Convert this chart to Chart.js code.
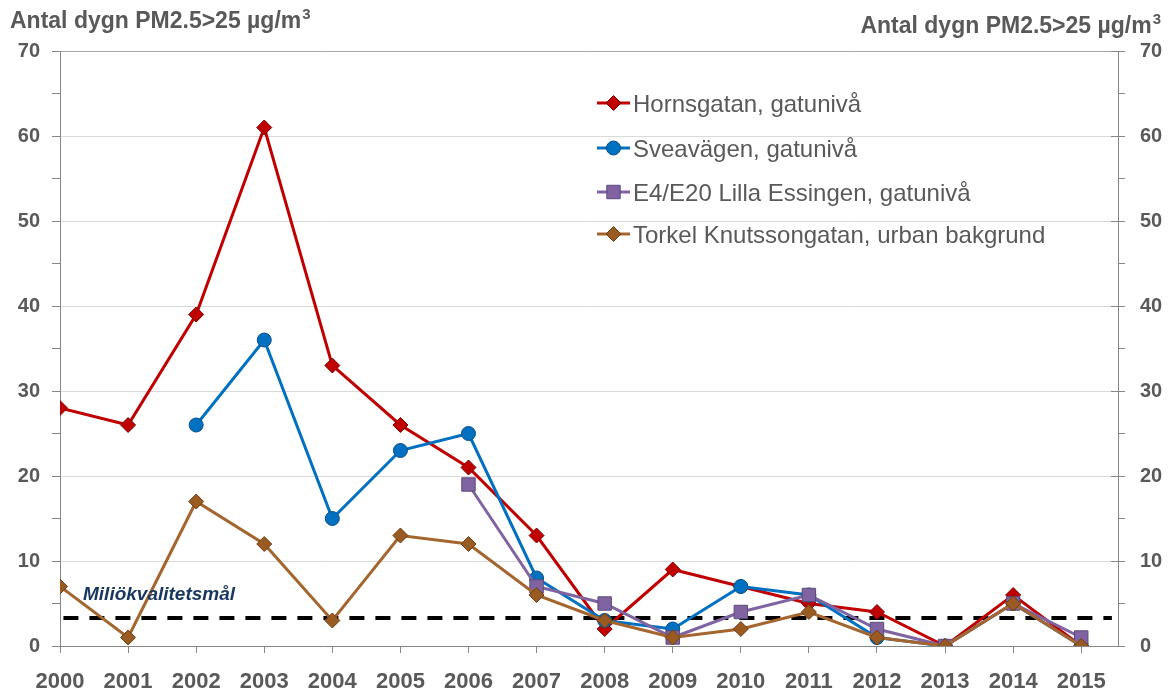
<!DOCTYPE html>
<html><head><meta charset="utf-8">
<script src="https://cdn.jsdelivr.net/npm/chart.js@4"></script>
<style>html,body{margin:0;padding:0;background:#fff}#wrap{width:1171px;height:695px;position:relative}</style>
</head><body><div id="wrap"><canvas id="c" width="1171" height="695"></canvas></div>
<script>
// ---- data ----
const years = [2000,2001,2002,2003,2004,2005,2006,2007,2008,2009,2010,2011,2012,2013,2014,2015];
const hornsgatan = [28,26,39,61,33,26,21,13,2,9,7,5,4,0,6,0];
const sveavagen  = [null,null,26,36,15,23,25,8,3,2,7,6,1,0,5,0];
const e4e20      = [null,null,null,null,null,null,19,7,5,1,4,6,2,0,5,1];
const torkel     = [7,1,17,12,3,13,12,6,3,1,2,4,1,0,5,0];
const goalYears  = [2000.05, 2015.45];
const goalValues = [3.3, 3.3];
const seriesNames = ['Hornsgatan, gatunivå','Sveavägen, gatunivå','E4/E20 Lilla Essingen, gatunivå','Torkel Knutssongatan, urban bakgrund'];
const goalName = 'Miliökvalitetsmål';
const axisTitleMain = 'Antal dygn PM2.5>25 µg/m';
const axisTitleSup = '3';
const yMin = 0, yMax = 70, yStep = 5, yLabelStep = 10;

const FONT = '"Liberation Sans", Arial, sans-serif';
const TXT = '#595959';
const AX = '#868686';

const toXY = arr => arr.map((v,i)=>({x:years[i], y:v}));

const styles = [
  {line:'#C00000', fill:'#C00000', edge:'#7A0000', shape:'diamond', r:7.5, ps:'rectRot'},
  {line:'#0070C0', fill:'#0070C0', edge:'#0A4F8A', shape:'circle', r:7, ps:'circle'},
  {line:'#8064A2', fill:'#8064A2', edge:'#5E4A7A', shape:'square', r:9.5, ps:'rect'},
  {line:'#A5652E', fill:'#9A5B22', edge:'#6E3F12', shape:'diamond', r:7.5, ps:'rectRot'}
];
const seriesData = [hornsgatan, sveavagen, e4e20, torkel];

const datasets = seriesData.map((d,i)=>({
  label: seriesNames[i],
  data: toXY(d),
  borderColor: styles[i].line,
  backgroundColor: styles[i].fill,
  borderWidth: 3,
  pointStyle: styles[i].ps,
  pointRadius: styles[i].r,
  pointHoverRadius: styles[i].r,
  pointBackgroundColor: styles[i].fill,
  pointBorderColor: styles[i].edge,
  pointBorderWidth: 1,
  tension: 0,
  order: 4 - i,
  yAxisID: 'y'
}));
datasets.push({
  label: goalName,
  data: goalYears.map((x,i)=>({x, y: goalValues[i]})),
  borderColor: '#000',
  borderWidth: 4,
  borderDash: [15, 11],
  pointRadius: 0,
  order: 10,
  yAxisID: 'y'
});

function drawMarker(ctx, shape, x, y, r, fill, edge){
  ctx.save();
  ctx.fillStyle = fill; ctx.strokeStyle = edge; ctx.lineWidth = 1;
  ctx.beginPath();
  if (shape === 'diamond') {
    ctx.moveTo(x, y-r); ctx.lineTo(x+r, y); ctx.lineTo(x, y+r); ctx.lineTo(x-r, y); ctx.closePath();
  } else if (shape === 'circle') {
    ctx.arc(x, y, r, 0, Math.PI*2);
  } else {
    const s = r*Math.SQRT1_2; ctx.rect(x-s, y-s, 2*s, 2*s);
  }
  ctx.fill(); ctx.stroke();
  ctx.restore();
}

function drawTitle(ctx, x, y, alignRight){
  const mainFont = 'bold 23px ' + FONT, supFont = 'bold 15px ' + FONT;
  ctx.font = mainFont; const w1 = ctx.measureText(axisTitleMain).width;
  ctx.font = supFont; const w2 = ctx.measureText(axisTitleSup).width;
  const x0 = alignRight ? x - w1 - w2 - 1 : x;
  ctx.textAlign = 'left';
  ctx.font = mainFont; ctx.fillText(axisTitleMain, x0, y);
  ctx.font = supFont; ctx.fillText(axisTitleSup, x0 + w1 + 1, y - 9);
}

const extras = {
  id: 'extras',
  afterDraw(chart){
    const ctx = chart.ctx;
    const xs = chart.scales.x, ys = chart.scales.y, ys2 = chart.scales.y2;
    ctx.save();
    // axis titles
    ctx.fillStyle = TXT;
    ctx.textBaseline = 'alphabetic';
    drawTitle(ctx, 10, 28, false);
    drawTitle(ctx, 1161, 33, true);
    // inner major tick marks on right axis
    ctx.strokeStyle = AX; ctx.lineWidth = 1;
    for (let v = yMin + yLabelStep; v <= yMax; v += yLabelStep) {
      const py = Math.round(ys2.getPixelForValue(v)) + 0.5;
      ctx.beginPath(); ctx.moveTo(ys2.left - 7, py); ctx.lineTo(ys2.left, py); ctx.stroke();
    }
    // goal label
    ctx.fillStyle = '#17375E';
    ctx.font = 'italic bold 19px ' + FONT;
    ctx.textAlign = 'left';
    ctx.fillText(goalName, xs.getPixelForValue(years[0]) + 23, ys.getPixelForValue(goalValues[0]) - 18);
    // legend
    const rows = [103, 148, 192, 234];
    ctx.font = '24px ' + FONT;
    seriesNames.forEach((name, i) => {
      const y = rows[i];
      const st = styles[i];
      ctx.strokeStyle = st.line; ctx.lineWidth = 3;
      ctx.beginPath(); ctx.moveTo(597, y); ctx.lineTo(630, y); ctx.stroke();
      drawMarker(ctx, st.shape, 613.5, y, st.r, st.fill, st.edge);
      ctx.fillStyle = TXT;
      ctx.textAlign = 'left';
      ctx.fillText(name, 633, y + 8.5);
    });
    ctx.restore();
  }
};

const gridColor = c => {
  const v = c.tick ? c.tick.value : 0;
  if (v % yLabelStep !== 0 || v === yMin) return 'rgba(0,0,0,0)';
  return v === yMax ? '#a6a6a6' : '#d9d9d9';
};

new Chart(document.getElementById('c'), {
  type: 'line',
  data: { datasets },
  plugins: [extras],
  options: {
    responsive: false,
    animation: false,
    devicePixelRatio: 1,
    events: [],
    layout: { padding: { top: 51, left: 0, right: 0, bottom: 0 } },
    plugins: { legend: { display: false }, tooltip: { enabled: false }, title: { display: false } },
    scales: {
      x: {
        type: 'linear',
        min: years[0],
        max: 2015.54,
        afterBuildTicks: s => { s.ticks = years.map(v => ({ value: v })); },
        afterFit: s => { s.height = 49; },
        ticks: { callback: v => String(v), autoSkip: false, maxRotation: 0, padding: 16,
                 color: TXT, font: { family: FONT, size: 22, weight: 'bold' } },
        grid: { drawOnChartArea: false, tickLength: 7, tickColor: AX },
        border: { color: AX, width: 1 }
      },
      y: {
        position: 'left',
        min: yMin, max: yMax,
        afterFit: s => { s.width = 60; },
        ticks: { stepSize: yStep, autoSkip: false, padding: 12,
                 callback: v => (v % yLabelStep === 0 ? String(v) : ''),
                 color: TXT, font: { family: FONT, size: 20, weight: 'bold' } },
        grid: { color: gridColor, tickColor: AX, tickLength: 8, lineWidth: 1 },
        border: { color: AX, width: 1 }
      },
      y2: {
        position: 'right',
        min: yMin, max: yMax,
        afterFit: s => { s.width = 53; },
        ticks: { stepSize: yStep, autoSkip: false, padding: 15,
                 callback: v => (v % yLabelStep === 0 ? String(v) : ''),
                 color: TXT, font: { family: FONT, size: 20, weight: 'bold' } },
        grid: { drawOnChartArea: false, tickColor: AX, tickLength: 7 },
        border: { color: AX, width: 1 }
      }
    }
  }
});
</script></body></html>
